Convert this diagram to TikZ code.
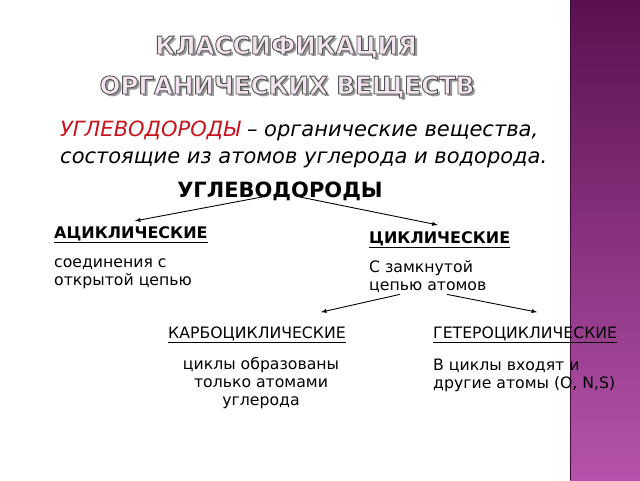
\documentclass[tikz,border=0pt]{standalone}
\usepackage{fontspec}
\setmainfont{DejaVu Sans}
\usetikzlibrary{positioning}

\definecolor{barTop}{HTML}{5A1050}
\definecolor{barBot}{HTML}{B653AC}
\definecolor{titlePink}{HTML}{F4E4F0}
\definecolor{defRed}{HTML}{C8141E}

\tikzset{
  titletext/.style={anchor=base, text=titlePink, font=\fontsize{24.5}{28}\bfseries\selectfont},
  head/.style={anchor=base west, font=\fontsize{15.7}{18}\selectfont},
  note/.style={anchor=base west, align=left, font=\fontsize{15.7}{18}\selectfont},
  link/.style={-latex, line width=0.9pt}
}

% title text: gray shadow, then fill + dark stroke
\newcommand\titlecaps[1]{%
  \makebox[0pt][l]{\hspace{2.5pt}\raisebox{-2.5pt}{\color{black!40}#1}}%
  \special{pdf:literal direct 2 Tr 0.9 w 0.33 0.33 0.33 RG}#1\special{pdf:literal direct 0 Tr}}

\begin{document}
\begin{tikzpicture}[x=1pt, y=-1pt, inner sep=0pt % text sits right on the node border
   ]
    \useasboundingbox (0,0) rectangle (640,480);
    \fill[white] (0,0) rectangle (640,480);
    % side bar
    \shade[top color=barTop, bottom color=barBot] (570,0) rectangle (640,480);
    \draw[barTop!70!black, line width=1.2pt] (570.6,0) -- (570.6,480);

    \node[titletext] (t1) at (286,54) {\titlecaps{КЛАССИФИКАЦИЯ}};
    \node[titletext] (t2) at (287,94) {\titlecaps{ОРГАНИЧЕСКИХ ВЕЩЕСТВ}};

    % multi-line nodes: base is the last line
    \node[anchor=base west, align=left, font=\fontsize{21}{27}\itshape\selectfont] (def) at (60,163)
        {{\color{defRed}УГЛЕВОДОРОДЫ} – органические вещества,\\ состоящие из атомов углерода и водорода.};

    \node[anchor=base, font=\fontsize{21}{24}\bfseries\selectfont] (hc) at (280,197) {УГЛЕВОДОРОДЫ};

    \node[head, font=\fontsize{16}{18}\bfseries\selectfont] (acyc) at (54,238) {\underline{АЦИКЛИЧЕСКИЕ}};
    \node[note] (acycTxt) at (54,285) {соединения с\\открытой цепью};

    \node[head, font=\fontsize{16}{18}\bfseries\selectfont] (cyc) at (369,243) {\underline{ЦИКЛИЧЕСКИЕ}};
    \node[note] (cycTxt) at (369,290) {С замкнутой\\цепью атомов};

    \node[head] (carb) at (168,338) {\underline{КАРБОЦИКЛИЧЕСКИЕ}};
    \node[note, anchor=base, align=center] (carbTxt) at (261,405) {циклы образованы\\только атомами\\углерода};

    \node[head] (het) at (433,338) {\underline{ГЕТЕРОЦИКЛИЧЕСКИЕ}};
    \node[note] (hetTxt) at (433,388) {В циклы входят и\\другие атомы (O, N,S)};

    \draw[link] ([xshift=-18pt]hc.base) -- ([xshift=4pt,yshift=5pt]acyc.north);
    \draw[link] ([xshift=20pt]hc.base) -- ([xshift=-2pt,yshift=6pt]cyc.north);
    \draw[link] ([xshift=31pt,yshift=-2pt]cycTxt.south west) -- ([xshift=-25pt,yshift=14pt]carb.north east);
    \draw[link] ([xshift=78pt,yshift=-2pt]cycTxt.south west) -- ([xshift=12pt,yshift=14pt]het.north);
\end{tikzpicture}
\end{document}
